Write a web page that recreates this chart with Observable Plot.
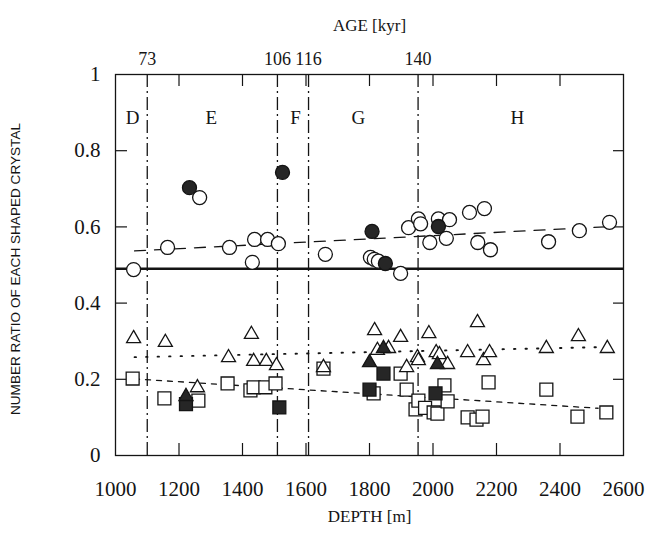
<!DOCTYPE html>
<html>
<head>
<meta charset="utf-8">
<script src="https://cdn.jsdelivr.net/npm/d3@7"></script>
<script src="https://cdn.jsdelivr.net/npm/@observablehq/plot@0.6"></script>
<style>
  html, body { margin: 0; padding: 0; background: #ffffff; }
  #chart svg { display: block; }
</style>
</head>
<body>
<div id="chart"></div>
<script>
// ---- data ----
const openCircleDepth = [1057,1164,1265,1359,1431,1438,1479,1513,1661,1803,1815,1828,1898,1923,1954,1961,1990,2017,2042,2052,2115,2141,2162,2181,2364,2461,2556];
const openCircleRatio = [0.488,0.546,0.677,0.546,0.507,0.567,0.567,0.556,0.528,0.520,0.515,0.510,0.478,0.598,0.621,0.608,0.559,0.621,0.570,0.619,0.638,0.559,0.648,0.540,0.561,0.590,0.612];
const filledCircleDepth = [1233,1526,1808,1850,2017];
const filledCircleRatio = [0.703,0.743,0.588,0.504,0.601];

const openTriangleDepth = [1057,1157,1258,1356,1428,1435,1475,1507,1655,1816,1825,1860,1898,1917,1951,1954,1987,2010,2020,2046,2109,2140,2159,2178,2357,2458,2549];
const openTriangleRatio = [0.307,0.297,0.178,0.257,0.318,0.247,0.247,0.236,0.231,0.328,0.276,0.281,0.310,0.231,0.257,0.249,0.320,0.270,0.265,0.239,0.270,0.349,0.249,0.270,0.281,0.312,0.281];
const filledTriangleDepth = [1222,1800,1844,2014];
const filledTriangleRatio = [0.155,0.244,0.281,0.239];

const openSquareDepth = [1054,1154,1261,1353,1425,1435,1472,1504,1655,1813,1898,1917,1945,1954,1975,2002,2014,2036,2046,2109,2137,2156,2175,2357,2455,2546];
const openSquareRatio = [0.202,0.150,0.144,0.189,0.171,0.179,0.179,0.189,0.228,0.163,0.215,0.173,0.121,0.144,0.125,0.113,0.110,0.184,0.142,0.100,0.094,0.102,0.192,0.173,0.102,0.113];
const filledSquareDepth = [1222,1516,1800,1844,2008];
const filledSquareRatio = [0.135,0.126,0.173,0.215,0.163];

// trend lines (end points)
const circleTrendDepth = [1060, 2560];
const circleTrendRatio = [0.537, 0.601];
const triangleTrendDepth = [1060, 2560];
const triangleTrendRatio = [0.258, 0.285];
const squareTrendDepth = [1060, 2520];
const squareTrendRatio = [0.201, 0.124];

const referenceRatio = [0.49];

// zone boundaries and ages
const boundaryDepth = [1100, 1510, 1608, 1953];
const boundaryAge = ["73", "106", "116", "140"];
const zoneName = ["D", "E", "F", "G", "H"];
const zoneDepth = [1054, 1302, 1567, 1765, 2266];

// axis ticks
const depthLabels = [1000, 1200, 1400, 1600, 1800, 2000, 2200, 2400, 2600];
const depthTicks = [1200, 1400, 1600, 1800, 2000, 2200, 2400];
const ratioLabels = [0, 0.2, 0.4, 0.6, 0.8, 1];
const ratioTicks = [0.2, 0.4, 0.6, 0.8];

const xTitle = "DEPTH [m]";
const topTitle = "AGE [kyr]";
const yTitle = "NUMBER RATIO OF EACH SHAPED CRYSTAL";

// ---- helpers ----
const pts = (xs, ys) => xs.map((x, i) => ({x, y: ys[i]}));
const ink = "#141414";

const W = 651, H = 534;
const mL = 115, mR = 28, mT = 74, mB = 79;
const plotW = W - mL - mR, plotH = H - mT - mB;

const chart = Plot.plot({
  width: W,
  height: H,
  marginLeft: mL,
  marginRight: mR,
  marginTop: mT,
  marginBottom: mB,
  style: {background: "#ffffff", color: ink, fontFamily: "Liberation Serif"},
  x: {domain: [1000, 2600]},
  y: {domain: [0, 1]},
  marks: [
    // inward tick marks
    Plot.ruleX(depthTicks, {x: d => d, insetTop: plotH - 12, stroke: ink, strokeWidth: 1.2}),
    Plot.ruleX(depthTicks, {x: d => d, insetBottom: plotH - 12, stroke: ink, strokeWidth: 1.2}),
    Plot.ruleY(ratioTicks, {y: d => d, insetRight: plotW - 12, stroke: ink, strokeWidth: 1.2}),
    Plot.ruleY(ratioTicks, {y: d => d, insetLeft: plotW - 10, stroke: ink, strokeWidth: 1.2}),
    // zone boundaries
    Plot.ruleX(boundaryDepth, {x: d => d, stroke: ink, strokeWidth: 1.3, strokeDasharray: "13,4,2,4"}),
    // reference line
    Plot.ruleY(referenceRatio, {y: d => d, stroke: ink, strokeWidth: 2.6}),
    // trend lines
    Plot.line(pts(circleTrendDepth, circleTrendRatio), {x: "x", y: "y", stroke: ink, strokeWidth: 1.3, strokeDasharray: "11,9"}),
    Plot.line(pts(triangleTrendDepth, triangleTrendRatio), {x: "x", y: "y", stroke: ink, strokeWidth: 1.8, strokeDasharray: "1.5,10", strokeLinecap: "round"}),
    Plot.line(pts(squareTrendDepth, squareTrendRatio), {x: "x", y: "y", stroke: ink, strokeWidth: 1.3, strokeDasharray: "5,6"}),
    // markers
    Plot.dot(pts(openSquareDepth, openSquareRatio), {x: "x", y: "y", symbol: "square", r: 7.3, fill: "#ffffff", stroke: ink, strokeWidth: 1.3}),
    Plot.dot(pts(openTriangleDepth, openTriangleRatio), {x: "x", y: "y", symbol: "triangle", r: 5.2, fill: "#ffffff", stroke: ink, strokeWidth: 1.3}),
    Plot.dot(pts(openCircleDepth, openCircleRatio), {x: "x", y: "y", symbol: "circle", r: 7, fill: "#ffffff", stroke: ink, strokeWidth: 1.3}),
    Plot.dot(pts(filledSquareDepth, filledSquareRatio), {x: "x", y: "y", symbol: "square", r: 7.3, fill: "#262626", stroke: ink, strokeWidth: 1.3}),
    Plot.dot(pts(filledTriangleDepth, filledTriangleRatio), {x: "x", y: "y", symbol: "triangle", r: 5.2, fill: "#262626", stroke: ink, strokeWidth: 1.3}),
    Plot.dot(pts(filledCircleDepth, filledCircleRatio), {x: "x", y: "y", symbol: "circle", r: 7, fill: "#262626", stroke: ink, strokeWidth: 1.3}),
    // frame
    Plot.frame({stroke: ink, strokeWidth: 1.3}),
    // axes
    Plot.axisX({ticks: depthLabels, tickSize: 0, tickPadding: 26, fontSize: 21, fontFamily: "Liberation Serif", label: null, tickFormat: d => String(d)}),
    Plot.axisX({anchor: "top", ticks: boundaryDepth, tickSize: 0, tickPadding: 10, fontSize: 18, fontFamily: "Liberation Serif", label: null, tickFormat: (d, i) => boundaryAge[i]}),
    Plot.axisY({ticks: ratioLabels, tickSize: 0, tickPadding: 15, fontSize: 21, fontFamily: "Liberation Serif", label: null, tickFormat: d => (d === 0 ? "0" : d === 1 ? "1" : d.toFixed(1))}),
    // zone letters
    Plot.text(zoneName, {x: zoneDepth, text: d => d, frameAnchor: "top", dy: 36, fontSize: 19, fontFamily: "Liberation Serif", fill: ink}),
    // titles
    Plot.text([topTitle], {text: d => d, frameAnchor: "top", dy: -56, fontSize: 17, fontFamily: "Liberation Serif", fill: ink}),
    Plot.text([xTitle], {text: d => d, frameAnchor: "bottom", dy: 66, fontSize: 17, fontFamily: "Liberation Serif", fill: ink}),
    Plot.text([yTitle], {text: d => d, frameAnchor: "left", textAnchor: "middle", dx: -100, dy: 4, rotate: -90, fontSize: 12.5, fontFamily: "Liberation Sans", fill: ink})
  ]
});

document.getElementById("chart").appendChild(chart);

// stretch the vertical title to its length in the figure
d3.select(chart).selectAll("text").filter(function () { return this.textContent === yTitle; })
  .attr("font-family", "Liberation Sans")
  .attr("textLength", 292)
  .attr("lengthAdjust", "spacingAndGlyphs");
</script>
</body>
</html>
